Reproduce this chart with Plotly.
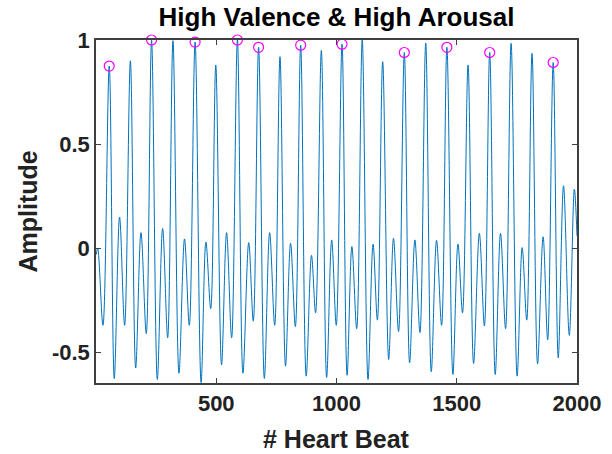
import plotly.graph_objects as go

# extrema of the heart signal (sample index, amplitude)
beat = [1, 7, 29, 55, 76, 98, 119, 143, 165, 187, 209, 231, 255, 277, 298, 320,
        345, 368, 388, 412, 437, 457, 477, 498, 522, 543, 564, 588, 611, 635, 654,
        676, 700, 722, 743, 765, 788, 809, 829, 851, 874, 896, 913, 937, 959, 980,
        999, 1023, 1044, 1064, 1084, 1107, 1131, 1152, 1170, 1192, 1217, 1237, 1258,
        1282, 1304, 1326, 1347, 1371, 1394, 1416, 1437, 1459, 1484, 1505, 1524, 1547,
        1570, 1594, 1615, 1637, 1660, 1682, 1703, 1726, 1751, 1772, 1791, 1813, 1836,
        1859, 1878, 1901, 1922, 1944, 1968, 1989, 2000]
amplitude = [-0.03, 0.0, -0.37, 0.875, -0.626, 0.15, -0.37, 0.90, -0.575, 0.075, -0.41,
             1.0, -0.63, 0.095, -0.43, 0.997, -0.60, 0.045, -0.37, 0.99, -0.645, 0.03,
             -0.29, 0.88, -0.56, 0.075, -0.43, 1.0, -0.60, 0.027, -0.35, 0.965, -0.625,
             0.075, -0.37, 0.92, -0.566, 0.024, -0.376, 0.975, -0.614, -0.034, -0.31,
             0.95, -0.62, 0.04, -0.37, 0.98, -0.61, 0.008, -0.386, 1.0, -0.63, 0.02,
             -0.345, 0.896, -0.534, 0.048, -0.40, 0.94, -0.55, 0.04, -0.405, 0.985,
             -0.593, 0.038, -0.37, 0.965, -0.606, 0.02, -0.31, 0.88, -0.553, 0.072,
             -0.373, 0.94, -0.606, 0.072, -0.386, 0.984, -0.614, 0.003, -0.345, 0.936,
             -0.555, 0.055, -0.44, 0.892, -0.526, 0.30, -0.418, 0.284, 0.06]

# detected peaks (magenta circles)
peak_x = [55, 231, 412, 588, 676, 851, 1023, 1282, 1459, 1637, 1901]
peak_y = [0.875, 1.0, 0.99, 1.0, 0.965, 0.975, 0.98, 0.94, 0.965, 0.94, 0.892]

x_ticks = [500, 1000, 1500, 2000]
y_ticks = [-0.5, 0, 0.5, 1]
y_labels = ["-0.5", "0", "0.5", "1"]

fig = go.Figure()
fig.add_trace(go.Scatter(x=beat, y=amplitude, mode="lines",
                         line=dict(color="#0072BD", width=1, shape="spline", smoothing=1),
                         showlegend=False))
fig.add_trace(go.Scatter(x=peak_x, y=peak_y, mode="markers",
                         marker=dict(symbol="circle-open", size=10, color="#FF00FF",
                                     line=dict(width=1.2)),
                         showlegend=False, cliponaxis=False))

font = "Liberation Sans, Arial, sans-serif"
axis = dict(showgrid=False, zeroline=False, showline=True, linecolor="#404040",
            linewidth=1.5, mirror="allticks", ticks="inside", ticklen=5,
            tickcolor="#404040", tickfont=dict(size=22, family=font, weight="bold",
                                               color="#222"))
label_font = dict(size=25, family=font, weight="bold", color="#222")

fig.update_layout(
    width=612, height=454, autosize=False,
    paper_bgcolor="white", plot_bgcolor="white",
    margin=dict(l=96, r=35, t=40, b=71),
    title=dict(text="High Valence & High Arousal", xref="paper", x=0.5, xanchor="center",
               yref="container", y=0.962, yanchor="middle",
               font=dict(size=26, family=font, weight="bold", color="black")),
    xaxis=dict(axis, range=[0, 2000], tickvals=x_ticks),
    yaxis=dict(axis, range=[-0.647, 1.0], tickvals=y_ticks, ticktext=y_labels),
    annotations=[
        dict(text="# Heart Beat", xref="paper", yref="paper", x=0.5, y=0,
             xanchor="center", yanchor="middle", yshift=-56, showarrow=False,
             font=label_font),
        dict(text="Amplitude", xref="paper", yref="paper", x=0, y=0.5,
             xanchor="center", yanchor="middle", xshift=-69, textangle=-90,
             showarrow=False, font=label_font),
    ],
)

# drop the page's default 8px body margin so the figure sits at the window corner
fig.write_html("out.html", config={"displayModeBar": False},
               post_script="document.body.style.margin='0';")
